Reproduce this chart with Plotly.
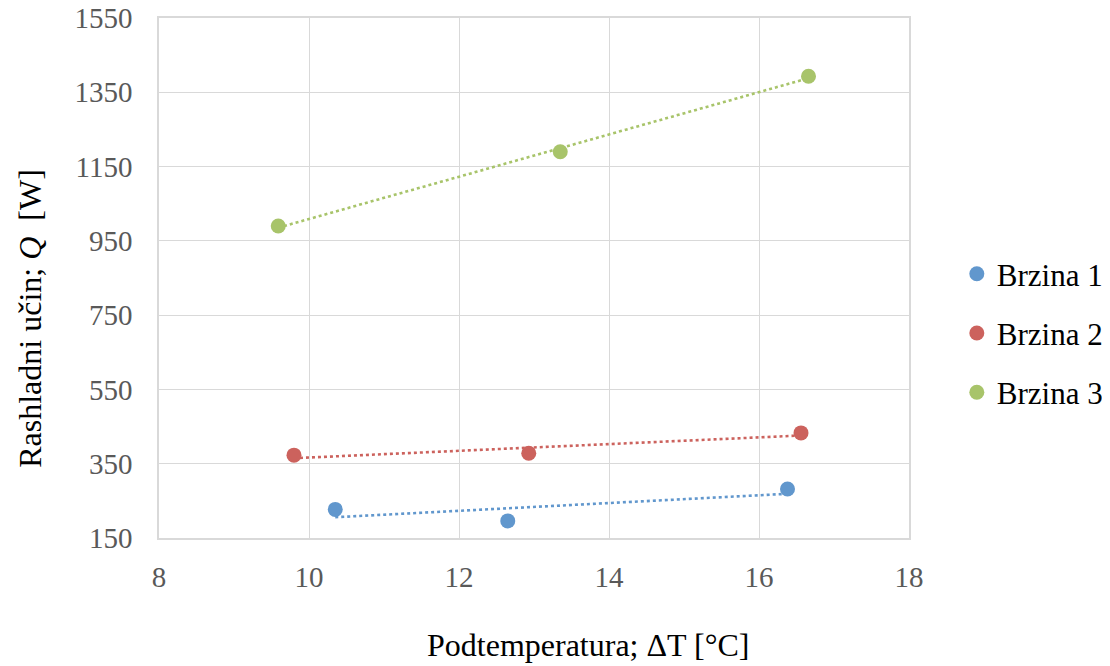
import numpy as np
import plotly.graph_objects as go

# podaci ocitani s grafa
series_names = ["Brzina 1", "Brzina 2", "Brzina 3"]
dt_b1 = [10.35, 12.65, 16.38]
q_b1 = [227, 196, 282]
dt_b2 = [9.80, 12.93, 16.56]
q_b2 = [373, 378, 433]
dt_b3 = [9.59, 13.35, 16.66]
q_b3 = [990, 1190, 1393]
x_ticks = [8, 10, 12, 14, 16, 18]
y_ticks = [150, 350, 550, 750, 950, 1150, 1350, 1550]

colors = ["#6197CD", "#CC625D", "#A8C46A"]
font_fam = "Liberation Serif, Times New Roman, serif"

fig = go.Figure()

data = [(dt_b1, q_b1), (dt_b2, q_b2), (dt_b3, q_b3)]
for i, (xs, ys) in enumerate(data):
    # linearni trend (kao u Excelu)
    k, b = np.polyfit(xs, ys, 1)
    xl = np.array([min(xs), max(xs)])
    fig.add_trace(go.Scatter(
        x=xl, y=k * xl + b, mode="lines",
        line=dict(color=colors[i], width=2.6, dash="dot"),
        showlegend=False, hoverinfo="skip"
    ))

for i, (xs, ys) in enumerate(data):
    fig.add_trace(go.Scatter(
        x=xs, y=ys, mode="markers", name=series_names[i],
        legendgroup=series_names[i],
        marker=dict(color=colors[i], size=15)
    ))

# body ima 8px margine, pa je slika manja za 8px
fig.update_layout(
    width=1102, height=658,
    plot_bgcolor="white", paper_bgcolor="white",
    margin=dict(l=151, r=201, t=10, b=128),
    font=dict(family=font_fam, color="#595959", size=29),
    legend=dict(
        xref="container", yref="container",
        x=0.861, y=0.506, xanchor="left", yanchor="middle",
        font=dict(family=font_fam, size=31, color="black"),
        tracegroupgap=16, itemwidth=30
    ),
    showlegend=True,
)

fig.update_xaxes(
    range=[8, 18], tickvals=x_ticks, showgrid=True,
    gridcolor="#D9D9D9", gridwidth=1.3,
    showline=True, mirror=True, linecolor="#D9D9D9", linewidth=1.5,
    zeroline=False, ticks="", ticklabelstandoff=12, automargin=False,
    ticklabeloverflow="allow",
    tickfont=dict(size=29, color="#595959"),
)
fig.update_yaxes(
    range=[150, 1550], tickvals=y_ticks, showgrid=True,
    gridcolor="#D9D9D9", gridwidth=1.3,
    showline=True, mirror=True, linecolor="#D9D9D9", linewidth=1.5,
    zeroline=False, ticks="", ticklabelstandoff=19, automargin=False,
    ticklabeloverflow="allow",
    tickfont=dict(size=29, color="#595959"),
)

fig.add_annotation(
    text="Rashladni učin; <i>Q</i>  [W]", xref="paper", yref="paper",
    x=-0.173, y=0.422, xanchor="center", yanchor="middle", textangle=-90,
    showarrow=False, font=dict(family=font_fam, size=32, color="black")
)
fig.add_annotation(
    text="Podtemperatura; ΔT [°C]", xref="paper", yref="paper",
    x=0.572, y=-0.206, xanchor="center", yanchor="middle",
    showarrow=False, font=dict(family=font_fam, size=32, color="black")
)

fig.write_html("out.html")
